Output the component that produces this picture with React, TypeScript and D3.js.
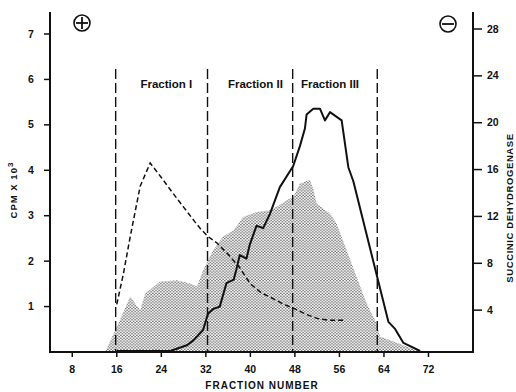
import React from "react";
import * as d3 from "d3";

// fraction number vs CPM x 10^3 (dashed curve)
const dashedFractions = [16, 17.2, 18.4, 20.2, 22, 24, 26, 28, 30, 31, 32.4, 34, 36, 38, 40, 42, 44, 46, 48, 50, 52, 54, 57];
const dashedCpm = [1.05, 1.73, 2.53, 3.65, 4.16, 3.84, 3.51, 3.19, 2.87, 2.72, 2.54, 2.4, 2.15, 1.87, 1.5, 1.3, 1.18, 1.05, 0.95, 0.83, 0.74, 0.7, 0.7];

// stippled area (CPM x 10^3)
const areaFractions = [13.9, 16, 18.4, 20.2, 21.1, 23.8, 26.8, 29.2, 30.4, 31.5, 33.3, 35.1, 37, 38.7, 41.1, 43.5, 44.7, 46.5, 47.7, 48.9, 50.7, 51.3, 51.9, 54.3, 55.5, 57.3, 59.1, 60.9, 62.7, 63.3, 65.1, 68.1, 70.5];
const areaCpm = [0, 0.55, 1.22, 0.92, 1.29, 1.55, 1.58, 1.51, 1.44, 1.8, 2.24, 2.54, 2.68, 2.97, 3.08, 3.12, 3.19, 3.34, 3.41, 3.71, 3.79, 3.59, 3.27, 3.05, 2.83, 2.24, 1.65, 1.07, 0.63, 0.34, 0.26, 0.12, 0];

// succinic dehydrogenase (solid curve)
const solidFractions = [16, 25.6, 28.6, 29.7, 31.5, 32.4, 33.3, 34.5, 35.7, 37, 37.5, 38.1, 39.3, 39.9, 41.1, 42.3, 43.5, 45.3, 47.7, 48.9, 49.8, 50.1, 51.3, 52.5, 53.4, 54.3, 56.4, 57.6, 58.5, 62.7, 64.8, 66, 67.5, 70.5];
const solidSdh = [0, 0.2, 1.0, 1.4, 2.3, 3.7, 4.1, 4.3, 6.3, 6.6, 7.5, 8.7, 8.4, 9.6, 11.2, 11.0, 12.2, 14.5, 16.3, 18.0, 19.5, 20.7, 21.2, 21.2, 20.2, 20.9, 20.2, 16.2, 15.0, 7.0, 3.0, 2.4, 1.2, 0.3];

const fractionBounds = [15.8, 32.3, 47.6, 62.8];
const fractionLabels = ["Fraction I", "Fraction II", "Fraction III"];
const fractionLabelAt = [24.9, 40.9, 54.3];

const xTicks = [8, 16, 24, 32, 40, 48, 56, 64, 72];
const leftTicks = [1, 2, 3, 4, 5, 6, 7];
const rightTicks = [4, 8, 12, 16, 20, 24, 28];

const font = "'Liberation Sans', Arial, sans-serif";

export default function App() {
  const x = d3.scaleLinear().domain([4, 80]).range([50, 473]);
  const yL = d3.scaleLinear().domain([0, 7]).range([352, 34]);
  const yR = d3.scaleLinear().domain([0, 28]).range([357, 29]);

  const dashedLine = d3.line<number>()
    .x((_, i) => x(dashedFractions[i]))
    .y((d) => yL(d));
  const solidLine = d3.line<number>()
    .x((_, i) => x(solidFractions[i]))
    .y((d) => Math.min(yR(d), 351));
  const area = d3.area<number>()
    .x((_, i) => x(areaFractions[i]))
    .y0(yL(0))
    .y1((d) => yL(d));

  return (
    <svg width={516} height={392} style={{ position: "absolute", left: 0, top: 0, background: "#fff" }}>
      <defs>
        <pattern id="stip" patternUnits="userSpaceOnUse" width={3.2} height={2.8}>
          <rect width={3.2} height={2.8} fill="#fff" />
          <circle cx={0.8} cy={0.7} r={0.68} fill="#333" />
          <circle cx={2.4} cy={2.1} r={0.68} fill="#333" />
        </pattern>
      </defs>

      <path d={area(areaCpm) || ""} fill="url(#stip)" stroke="none" />

      {fractionBounds.map((f) => (
        <line key={f} x1={x(f)} x2={x(f)} y1={69} y2={352} stroke="#111" strokeWidth={1.4} strokeDasharray="10,4" />
      ))}
      {fractionLabels.map((t, i) => (
        <text key={t} x={x(fractionLabelAt[i])} y={88}
          textAnchor="middle" fontFamily={font} fontWeight="bold" fontSize={11.5} fill="#111">{t}</text>
      ))}

      <path d={dashedLine(dashedCpm) || ""} fill="none" stroke="#111" strokeWidth={1.5} strokeDasharray="5,3" />
      <path d={solidLine(solidSdh) || ""} fill="none" stroke="#111" strokeWidth={2} strokeLinejoin="round" />

      {/* axes */}
      <line x1={50} x2={50} y1={12} y2={353} stroke="#111" strokeWidth={2} />
      <line x1={49} x2={474} y1={352} y2={352} stroke="#111" strokeWidth={2} />
      <line x1={473} x2={473} y1={12} y2={353} stroke="#111" strokeWidth={2} />

      {leftTicks.map((t) => (
        <g key={t}>
          <line x1={44} x2={50} y1={yL(t)} y2={yL(t)} stroke="#111" strokeWidth={1.5} />
          <text x={31} y={yL(t) + 3.5} textAnchor="middle" fontFamily={font} fontWeight="bold" fontSize={10.5} fill="#111">{t}</text>
        </g>
      ))}
      {rightTicks.map((t) => (
        <g key={t}>
          <line x1={473} x2={482} y1={yR(t)} y2={yR(t)} stroke="#111" strokeWidth={1.5} />
          <text x={487} y={yR(t) + 3.5} textAnchor="start" fontFamily={font} fontWeight="bold" fontSize={10.5} fill="#111">{t}</text>
        </g>
      ))}
      {xTicks.map((t) => (
        <g key={t}>
          <line x1={x(t)} x2={x(t)} y1={352} y2={357} stroke="#111" strokeWidth={1.5} />
          <text x={x(t)} y={373} textAnchor="middle" fontFamily={font} fontWeight="bold" fontSize={10.5} fill="#111">{t}</text>
        </g>
      ))}

      <text x={262} y={389} textAnchor="middle" fontFamily={font} fontWeight="bold" fontSize={10} letterSpacing={1} fill="#111">FRACTION NUMBER</text>
      <text transform="translate(17,190) rotate(-90)" textAnchor="middle" fontFamily={font} fontWeight="bold" fontSize={9.5} letterSpacing={1} fill="#111">
        CPM X 10<tspan dy={-4} fontSize={8}>3</tspan>
      </text>
      <text transform="translate(513,208) rotate(-90)" textAnchor="middle" fontFamily={font} fontWeight="bold" fontSize={9.5} letterSpacing={0.6} fill="#111">SUCCINIC DEHYDROGENASE</text>

      {/* electrode signs */}
      <circle cx={82} cy={23} r={8} fill="none" stroke="#111" strokeWidth={1.6} />
      <line x1={76} x2={88} y1={23} y2={23} stroke="#111" strokeWidth={1.8} />
      <line x1={82} x2={82} y1={17} y2={29} stroke="#111" strokeWidth={1.8} />
      <circle cx={448} cy={24} r={8} fill="none" stroke="#111" strokeWidth={1.6} />
      <line x1={442} x2={454} y1={24} y2={24} stroke="#111" strokeWidth={1.8} />
    </svg>
  );
}
